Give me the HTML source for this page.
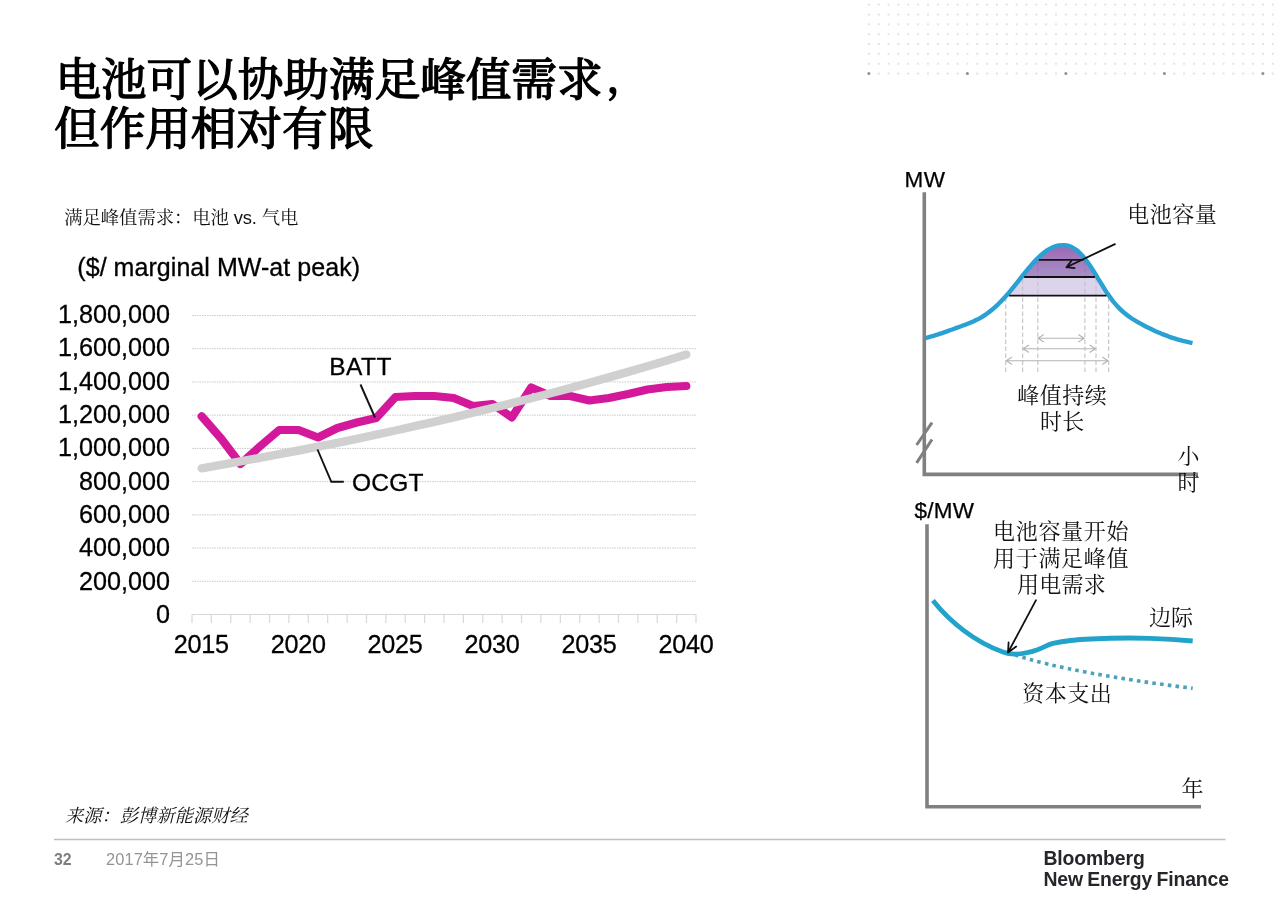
<!DOCTYPE html>
<html lang="zh-CN">
<head>
<meta charset="utf-8">
<title>电池可以协助满足峰值需求，但作用相对有限</title>
<style>
  html, body { margin: 0; padding: 0; background: #ffffff; }
  body { width: 1280px; height: 904px; overflow: hidden; position: relative; }
  svg { position: absolute; left: 0; top: 0; display: block; }
  .t-sans  { font-family: "Liberation Sans", "Noto Sans CJK SC", sans-serif; }
  .t-serif { font-family: "Liberation Serif", "Noto Serif CJK SC", serif; }
  .t-mix   { font-family: "Liberation Sans", "Noto Serif CJK SC", serif; }
</style>
</head>
<body>
<svg width="1280" height="904" viewBox="0 0 1280 904">
  <defs>
    <pattern id="dots" x="864" y="-0.3" width="9.85" height="9.85" patternUnits="userSpaceOnUse">
      <circle cx="4.9" cy="4.9" r="0.9" fill="#d6d6d6"/>
    </pattern>
    <linearGradient id="peakfill" x1="0" y1="0" x2="0" y2="1">
      <stop offset="0" stop-color="#9c66b4"/>
      <stop offset="0.45" stop-color="#a27bbd"/>
      <stop offset="1" stop-color="#a78fc8"/>
    </linearGradient>
  </defs>

  <!-- decorative dot grid -->
  <rect x="864" y="0" width="416" height="78.5" fill="url(#dots)"/>
  <g fill="#8f8f8f">
    <circle cx="868.9" cy="73.6" r="1.5"/><circle cx="967.4" cy="73.6" r="1.5"/>
    <circle cx="1065.9" cy="73.6" r="1.5"/><circle cx="1164.4" cy="73.6" r="1.5"/>
    <circle cx="1262.9" cy="73.6" r="1.5"/>
  </g>

  <!-- title -->
  <g class="t-serif" font-size="45.6" font-weight="400" fill="#000" stroke="#000" stroke-width="1.5" stroke-linejoin="round">
    <text x="55.4" y="96.2">电池可以协助满足峰值需求<tspan dx="4" dy="-4" font-size="40">，</tspan></text>
    <text x="54.1" y="145.4">但作用相对有限</text>
  </g>

  <!-- chart heading -->
  <text class="t-mix" x="64.3" y="223.6" font-size="18.4" letter-spacing="-0.12" fill="#111">满足峰值需求：电池 vs. 气电</text>
  <text class="t-sans" x="77.3" y="276" font-size="25" letter-spacing="0.05" fill="#000" stroke="#000" stroke-width="0.3">($/ marginal MW-at peak)</text>

  <!-- left chart -->
  <g stroke="#c8c8c8" stroke-width="1" stroke-dasharray="1.5 1" fill="none"><line x1="192.0" x2="696.0" y1="315.50" y2="315.50"/><line x1="192.0" x2="696.0" y1="348.72" y2="348.72"/><line x1="192.0" x2="696.0" y1="381.94" y2="381.94"/><line x1="192.0" x2="696.0" y1="415.17" y2="415.17"/><line x1="192.0" x2="696.0" y1="448.39" y2="448.39"/><line x1="192.0" x2="696.0" y1="481.61" y2="481.61"/><line x1="192.0" x2="696.0" y1="514.83" y2="514.83"/><line x1="192.0" x2="696.0" y1="548.06" y2="548.06"/><line x1="192.0" x2="696.0" y1="581.28" y2="581.28"/></g>
  <g stroke="#d8d8d8" stroke-width="1.2" fill="none">
    <line x1="192.0" x2="696.0" y1="614.5" y2="614.5"/><line x1="192.00" x2="192.00" y1="614.5" y2="623"/><line x1="211.38" x2="211.38" y1="614.5" y2="623"/><line x1="230.77" x2="230.77" y1="614.5" y2="623"/><line x1="250.15" x2="250.15" y1="614.5" y2="623"/><line x1="269.54" x2="269.54" y1="614.5" y2="623"/><line x1="288.92" x2="288.92" y1="614.5" y2="623"/><line x1="308.31" x2="308.31" y1="614.5" y2="623"/><line x1="327.69" x2="327.69" y1="614.5" y2="623"/><line x1="347.08" x2="347.08" y1="614.5" y2="623"/><line x1="366.46" x2="366.46" y1="614.5" y2="623"/><line x1="385.85" x2="385.85" y1="614.5" y2="623"/><line x1="405.23" x2="405.23" y1="614.5" y2="623"/><line x1="424.62" x2="424.62" y1="614.5" y2="623"/><line x1="444.00" x2="444.00" y1="614.5" y2="623"/><line x1="463.38" x2="463.38" y1="614.5" y2="623"/><line x1="482.77" x2="482.77" y1="614.5" y2="623"/><line x1="502.15" x2="502.15" y1="614.5" y2="623"/><line x1="521.54" x2="521.54" y1="614.5" y2="623"/><line x1="540.92" x2="540.92" y1="614.5" y2="623"/><line x1="560.31" x2="560.31" y1="614.5" y2="623"/><line x1="579.69" x2="579.69" y1="614.5" y2="623"/><line x1="599.08" x2="599.08" y1="614.5" y2="623"/><line x1="618.46" x2="618.46" y1="614.5" y2="623"/><line x1="637.85" x2="637.85" y1="614.5" y2="623"/><line x1="657.23" x2="657.23" y1="614.5" y2="623"/><line x1="676.62" x2="676.62" y1="614.5" y2="623"/><line x1="696.00" x2="696.00" y1="614.5" y2="623"/>
  </g>
  <polyline points="201.7,416.3 221.1,438.5 240.5,464.0 259.8,446.5 279.2,430.0 298.6,430.0 318.0,437.5 337.4,428.0 356.8,422.5 376.2,418.0 395.5,397.0 414.9,396.0 434.3,396.0 453.7,398.0 473.1,406.0 492.5,404.0 511.8,417.5 531.2,387.5 550.6,396.0 570.0,396.0 589.4,400.5 608.8,398.0 628.2,394.0 647.5,389.5 666.9,387.0 686.3,386.0" fill="none" stroke="#d4189b" stroke-width="8.2" stroke-linejoin="round" stroke-linecap="round"/>
  <polyline points="201.7,468.3 221.1,464.9 240.5,461.4 259.8,457.9 279.2,454.2 298.6,450.5 318.0,446.7 337.4,442.8 356.8,438.8 376.2,434.7 395.5,430.5 414.9,426.2 434.3,421.8 453.7,417.3 473.1,412.7 492.5,408.0 511.8,403.2 531.2,398.3 550.6,393.2 570.0,388.1 589.4,382.8 608.8,377.4 628.2,371.9 647.5,366.2 666.9,360.5 686.3,354.5" fill="none" stroke="#d0d0d0" stroke-width="8.4" stroke-linejoin="round" stroke-linecap="round"/>
  <g stroke="#111" stroke-width="1.9" fill="none">
    <polyline points="360.5,384.5 375,417.5"/>
    <polyline points="317.5,449.5 331.3,481.8 343.8,481.8"/>
  </g>
  <g class="t-sans" font-size="24.5" fill="#000" stroke="#000" stroke-width="0.3">
    <text x="170.1" y="322.9" text-anchor="end" font-size="25.2">1,800,000</text><text x="170.1" y="356.2" text-anchor="end" font-size="25.2">1,600,000</text><text x="170.1" y="389.6" text-anchor="end" font-size="25.2">1,400,000</text><text x="170.1" y="422.9" text-anchor="end" font-size="25.2">1,200,000</text><text x="170.1" y="456.2" text-anchor="end" font-size="25.2">1,000,000</text><text x="170.1" y="489.5" text-anchor="end" font-size="25.2">800,000</text><text x="170.1" y="522.9" text-anchor="end" font-size="25.2">600,000</text><text x="170.1" y="556.2" text-anchor="end" font-size="25.2">400,000</text><text x="170.1" y="589.5" text-anchor="end" font-size="25.2">200,000</text><text x="170.1" y="622.9" text-anchor="end" font-size="25.2">0</text>
    <text x="201.3" y="652.8" text-anchor="middle" font-size="25.2" letter-spacing="-0.25">2015</text><text x="298.2" y="652.8" text-anchor="middle" font-size="25.2" letter-spacing="-0.25">2020</text><text x="395.1" y="652.8" text-anchor="middle" font-size="25.2" letter-spacing="-0.25">2025</text><text x="492.1" y="652.8" text-anchor="middle" font-size="25.2" letter-spacing="-0.25">2030</text><text x="589.0" y="652.8" text-anchor="middle" font-size="25.2" letter-spacing="-0.25">2035</text><text x="685.9" y="652.8" text-anchor="middle" font-size="25.2" letter-spacing="-0.25">2040</text>
    <text x="329.2" y="374.6" letter-spacing="0.5">BATT</text>
    <text x="352" y="491" letter-spacing="0.2">OCGT</text>
  </g>

  <!-- top right chart -->
  <g id="peak">
    <path d="M1006.3,295.6 L1021.6,277.0 L1097.1,277.0 L1108.9,295.6 Z" fill="#dcd4ea"/>
    <path d="M1021.3,277.3 L1021.6,277.0 L1021.8,276.7 L1022.0,276.4 L1022.2,276.1 L1022.4,275.9 L1022.6,275.6 L1022.9,275.3 L1023.1,275.0 L1023.3,274.8 L1023.5,274.5 L1023.8,274.2 L1024.0,273.9 L1024.2,273.6 L1024.5,273.3 L1024.7,273.0 L1024.9,272.7 L1025.2,272.4 L1025.4,272.2 L1025.6,271.9 L1025.9,271.6 L1026.1,271.3 L1026.3,271.0 L1026.6,270.7 L1026.8,270.4 L1027.0,270.2 L1027.3,269.9 L1027.5,269.6 L1027.7,269.3 L1028.0,269.0 L1028.2,268.8 L1028.4,268.5 L1028.6,268.3 L1028.8,268.0 L1029.0,267.8 L1029.3,267.5 L1029.5,267.2 L1029.7,267.0 L1029.9,266.7 L1030.2,266.4 L1030.4,266.2 L1030.6,265.9 L1030.9,265.6 L1031.1,265.4 L1031.3,265.1 L1031.5,264.8 L1031.8,264.6 L1032.0,264.3 L1032.2,264.0 L1032.4,263.8 L1032.7,263.5 L1032.9,263.3 L1033.1,263.0 L1033.4,262.8 L1033.6,262.5 L1033.8,262.3 L1034.0,262.0 L1034.3,261.8 L1034.5,261.5 L1034.7,261.3 L1034.9,261.1 L1035.1,260.9 L1035.4,260.6 L1035.6,260.4 L1035.8,260.1 L1036.1,259.9 L1036.3,259.7 L1036.5,259.4 L1036.8,259.2 L1037.0,259.0 L1037.2,258.7 L1037.5,258.5 L1037.7,258.3 L1037.9,258.0 L1038.2,257.8 L1038.4,257.6 L1038.6,257.4 L1038.9,257.1 L1039.1,256.9 L1039.3,256.7 L1039.5,256.5 L1039.8,256.3 L1040.0,256.1 L1040.2,255.8 L1040.4,255.6 L1040.6,255.5 L1040.8,255.3 L1041.1,255.1 L1041.3,254.9 L1041.6,254.7 L1041.8,254.5 L1042.0,254.3 L1042.3,254.1 L1042.5,253.9 L1042.7,253.7 L1043.0,253.5 L1043.2,253.3 L1043.4,253.1 L1043.6,252.9 L1043.9,252.7 L1044.1,252.6 L1044.3,252.4 L1044.6,252.2 L1044.8,252.0 L1045.0,251.8 L1045.3,251.7 L1045.5,251.5 L1045.7,251.3 L1045.9,251.1 L1046.2,251.0 L1046.4,250.8 L1046.6,250.7 L1046.8,250.5 L1047.0,250.4 L1047.2,250.2 L1047.5,250.1 L1047.7,249.9 L1047.9,249.8 L1048.2,249.6 L1048.4,249.5 L1048.6,249.4 L1048.9,249.2 L1049.1,249.1 L1049.3,249.0 L1049.6,248.8 L1049.8,248.7 L1050.0,248.6 L1050.3,248.4 L1050.5,248.3 L1050.7,248.2 L1051.0,248.1 L1051.2,248.0 L1051.4,247.8 L1051.7,247.7 L1051.9,247.6 L1052.1,247.5 L1052.3,247.4 L1052.6,247.3 L1052.8,247.2 L1053.0,247.1 L1053.2,247.0 L1053.4,246.9 L1053.6,246.8 L1053.9,246.7 L1054.1,246.7 L1054.3,246.6 L1054.5,246.5 L1054.8,246.4 L1055.0,246.3 L1055.2,246.3 L1055.5,246.2 L1055.7,246.1 L1055.9,246.0 L1056.1,246.0 L1056.4,245.9 L1056.6,245.9 L1056.8,245.8 L1057.1,245.7 L1057.3,245.7 L1057.5,245.6 L1057.7,245.6 L1058.0,245.5 L1058.2,245.5 L1058.4,245.5 L1058.6,245.4 L1058.8,245.4 L1059.0,245.4 L1059.3,245.3 L1059.5,245.3 L1059.8,245.3 L1060.0,245.3 L1060.2,245.2 L1060.5,245.2 L1060.7,245.2 L1060.9,245.2 L1061.2,245.2 L1061.4,245.1 L1061.6,245.1 L1061.8,245.1 L1062.1,245.1 L1062.3,245.1 L1062.5,245.1 L1062.8,245.1 L1063.0,245.1 L1063.2,245.1 L1063.5,245.1 L1063.7,245.1 L1063.9,245.1 L1064.1,245.1 L1064.4,245.2 L1064.6,245.2 L1064.8,245.2 L1065.0,245.2 L1065.2,245.2 L1065.5,245.3 L1065.7,245.3 L1065.9,245.3 L1066.2,245.4 L1066.4,245.4 L1066.6,245.4 L1066.9,245.5 L1067.1,245.5 L1067.3,245.6 L1067.6,245.6 L1067.8,245.7 L1068.0,245.7 L1068.3,245.8 L1068.5,245.9 L1068.7,245.9 L1068.9,246.0 L1069.2,246.1 L1069.4,246.1 L1069.6,246.2 L1069.9,246.3 L1070.1,246.4 L1070.3,246.4 L1070.5,246.5 L1070.8,246.6 L1071.0,246.7 L1071.2,246.8 L1071.4,246.9 L1071.6,247.0 L1071.8,247.1 L1072.1,247.2 L1072.3,247.3 L1072.5,247.5 L1072.7,247.6 L1073.0,247.7 L1073.2,247.8 L1073.4,248.0 L1073.7,248.1 L1073.9,248.3 L1074.1,248.4 L1074.4,248.6 L1074.6,248.7 L1074.8,248.9 L1075.1,249.0 L1075.3,249.2 L1075.5,249.3 L1075.8,249.5 L1076.0,249.7 L1076.2,249.8 L1076.5,250.0 L1076.7,250.2 L1076.9,250.4 L1077.1,250.5 L1077.3,250.7 L1077.6,250.9 L1077.8,251.1 L1078.0,251.3 L1078.2,251.5 L1078.5,251.7 L1078.7,251.9 L1078.9,252.2 L1079.2,252.4 L1079.4,252.6 L1079.6,252.8 L1079.8,253.1 L1080.1,253.3 L1080.3,253.5 L1080.5,253.8 L1080.8,254.0 L1081.0,254.2 L1081.2,254.5 L1081.5,254.7 L1081.7,255.0 L1081.9,255.2 L1082.2,255.5 L1082.4,255.7 L1082.6,256.0 L1082.9,256.3 L1083.1,256.5 L1083.3,256.7 L1083.5,257.0 L1083.7,257.2 L1084.0,257.5 L1084.2,257.8 L1084.4,258.1 L1084.6,258.4 L1084.9,258.7 L1085.1,259.0 L1085.3,259.3 L1085.6,259.6 L1085.8,259.9 L1086.0,260.2 L1086.2,260.5 L1086.5,260.8 L1086.7,261.1 L1086.9,261.4 L1087.1,261.7 L1087.4,262.0 L1087.6,262.3 L1087.8,262.7 L1088.1,263.0 L1088.3,263.3 L1088.5,263.6 L1088.7,263.9 L1089.0,264.3 L1089.2,264.6 L1089.4,264.8 L1089.6,265.2 L1089.8,265.5 L1090.0,265.8 L1090.3,266.2 L1090.5,266.5 L1090.7,266.9 L1091.0,267.2 L1091.2,267.6 L1091.4,267.9 L1091.7,268.3 L1091.9,268.6 L1092.1,269.0 L1092.4,269.3 L1092.6,269.7 L1092.8,270.1 L1093.1,270.4 L1093.3,270.8 L1093.5,271.1 L1093.8,271.5 L1094.0,271.9 L1094.2,272.3 L1094.5,272.6 L1094.7,273.0 L1094.9,273.4 L1095.1,273.7 L1095.3,274.0 L1095.5,274.4 L1095.8,274.7 L1096.0,275.1 L1096.2,275.5 L1096.4,275.9 L1096.7,276.2 L1096.9,276.6 L1097.1,277.0 Z" fill="url(#peakfill)"/>
    <g stroke="#4a3a4a" stroke-opacity="0.13" stroke-width="1.2" stroke-dasharray="4.5 2.5" fill="none">
      <line x1="1022.6" x2="1022.6" y1="279" y2="296"/><line x1="1037.8" x2="1037.8" y1="261" y2="296"/>
      <line x1="1084.9" x2="1084.9" y1="261" y2="296"/><line x1="1096" x2="1096" y1="279" y2="296"/>
    </g>
    <g stroke="#3a2a3a" stroke-opacity="0.27" stroke-width="1.2" stroke-dasharray="4.5 2.5" fill="none">
      <line x1="1005.7" x2="1005.7" y1="297.5" y2="373.5"/><line x1="1022.6" x2="1022.6" y1="297.5" y2="373.5"/>
      <line x1="1037.8" x2="1037.8" y1="297.5" y2="373.5"/><line x1="1084.9" x2="1084.9" y1="297.5" y2="373.5"/>
      <line x1="1096" x2="1096" y1="297.5" y2="373.5"/><line x1="1108.6" x2="1108.6" y1="297.5" y2="373.5"/>
    </g>
    <g stroke="#b4b4b4" stroke-width="1.1" fill="none" stroke-linecap="round" stroke-linejoin="round">
      <path d="M1038,338.3 H1084.2 M1043.5,334.8 L1038,338.3 L1043.5,341.8 M1078.7,334.8 L1084.2,338.3 L1078.7,341.8"/>
      <path d="M1023.1,348.7 H1095.5 M1028.6,345.2 L1023.1,348.7 L1028.6,352.2 M1090,345.2 L1095.5,348.7 L1090,352.2"/>
      <path d="M1006.2,360.8 H1108.1 M1011.7,357.3 L1006.2,360.8 L1011.7,364.3 M1102.6,357.3 L1108.1,360.8 L1102.6,364.3"/>
    </g>
    <path d="M925.2,338.1 C926.2,337.8 929.3,337.0 931.3,336.4 C933.3,335.9 935.3,335.2 937.4,334.6 C939.4,333.9 941.4,333.3 943.4,332.6 C945.5,331.9 947.5,331.1 949.5,330.4 C951.5,329.7 953.6,329.0 955.6,328.2 C957.6,327.5 959.6,326.8 961.7,326.0 C963.7,325.3 965.7,324.6 967.7,323.8 C969.8,323.0 971.8,322.1 973.8,321.2 C975.8,320.2 977.9,319.3 979.9,318.1 C981.9,317.0 983.9,315.7 986.0,314.3 C988.0,312.9 990.0,311.4 992.0,309.7 C994.1,308.0 996.1,306.2 998.1,304.3 C1000.1,302.3 1002.2,300.2 1004.2,298.0 C1006.2,295.8 1008.2,293.5 1010.2,291.1 C1012.3,288.7 1014.3,286.1 1016.3,283.6 C1018.4,281.1 1020.4,278.5 1022.4,275.9 C1024.4,273.4 1026.5,270.8 1028.5,268.4 C1030.5,266.0 1032.5,263.7 1034.5,261.5 C1036.6,259.4 1038.6,257.3 1040.6,255.5 C1042.7,253.7 1044.7,252.0 1046.7,250.6 C1048.7,249.2 1050.8,248.1 1052.8,247.2 C1054.8,246.3 1056.8,245.7 1058.8,245.4 C1060.9,245.1 1062.9,245.0 1064.9,245.2 C1067.0,245.4 1069.0,245.9 1071.0,246.7 C1073.0,247.6 1075.0,248.9 1077.1,250.5 C1079.1,252.2 1081.1,254.3 1083.2,256.6 C1085.2,259.0 1087.2,261.7 1089.2,264.6 C1091.2,267.5 1093.3,270.7 1095.3,274.0 C1097.3,277.2 1099.3,280.7 1101.4,283.9 C1103.4,287.2 1105.4,290.6 1107.5,293.6 C1109.5,296.5 1111.5,299.4 1113.5,301.9 C1115.6,304.4 1117.6,306.6 1119.6,308.6 C1121.6,310.6 1123.6,312.4 1125.7,314.0 C1127.7,315.7 1129.7,317.1 1131.8,318.5 C1133.8,319.8 1135.8,321.0 1137.8,322.2 C1139.9,323.4 1141.9,324.5 1143.9,325.5 C1145.9,326.6 1147.9,327.6 1150.0,328.6 C1152.0,329.6 1154.0,330.5 1156.0,331.4 C1158.1,332.3 1160.1,333.2 1162.1,334.0 C1164.2,334.8 1166.2,335.5 1168.2,336.3 C1170.2,337.0 1172.2,337.7 1174.3,338.3 C1176.3,339.0 1178.3,339.6 1180.3,340.1 C1182.4,340.7 1184.4,341.2 1186.4,341.7 C1188.5,342.2 1191.5,342.9 1192.5,343.1"
          fill="none" stroke="#2aa1d3" stroke-width="4.4" stroke-linecap="butt" stroke-linejoin="round"/>
    <g stroke="#111" stroke-width="1.8" fill="none">
      <line x1="1038.8" x2="1083.5" y1="259.8" y2="259.8"/>
      <line x1="1024.2" x2="1094.9" y1="277.0" y2="277.0"/>
      <line x1="1009.1" x2="1106.5" y1="295.6" y2="295.6"/>
      <path d="M1114.9,244.1 L1066.4,267.2 M1071.4,260.9 L1066.4,267.2 L1074.6,268.1" stroke-linecap="round" stroke-linejoin="round"/>
    </g>
    <g stroke="#808080" stroke-width="3.6" fill="none">
      <path d="M924.3,192.3 V474.4 H1198"/>
      <path d="M916.6,445 L932,422.6 M916.6,462.9 L932,439.5" stroke-width="3"/>
    </g>
    <text class="t-sans" x="904.5" y="187" font-size="22.5" letter-spacing="0.6" fill="#000" stroke="#000" stroke-width="0.25">MW</text>
    <g class="t-serif" font-size="22" fill="#111">
      <text x="1127.3" y="222" letter-spacing="0.5">电池容量</text>
      <text x="1062.2" y="403.3" text-anchor="middle" letter-spacing="0.5">峰值持续</text>
      <text x="1062.2" y="429.3" text-anchor="middle" letter-spacing="0.3">时长</text>
      <text x="1177.5" y="464">小</text>
      <text x="1177.5" y="490">时</text>
    </g>
  </g>

  <!-- bottom right chart -->
  <g id="capex">
    <path d="M1015,654.8 C1050,667 1120,679.5 1192.7,688.3" fill="none" stroke="#4aa3ba" stroke-width="3.6" stroke-dasharray="3.6 4.2"/>
    <path d="M932.9,600.5 C950,622 975,642 1003,652 C1012,655.5 1022,655 1037.5,649.7 C1045,647 1048,644.5 1053,643.3 C1066,640.5 1080,639.4 1091,639 C1110,638 1133,637.8 1150,638.3 C1165,638.8 1180,639.8 1192.7,641"
          fill="none" stroke="#22a3c9" stroke-width="4.8" stroke-linecap="butt" stroke-linejoin="round"/>
    <g stroke="#111" stroke-width="1.8" fill="none" stroke-linecap="round" stroke-linejoin="round">
      <path d="M1036,600.2 L1008,652.5 M1008.6,642.5 L1008,652.5 L1016.2,646.6"/>
    </g>
    <g stroke="#808080" stroke-width="3.6" fill="none">
      <path d="M927,524.3 V806.8 H1201"/>
    </g>
    <text class="t-sans" x="914.5" y="517.6" font-size="22.5" letter-spacing="0.25" fill="#000" stroke="#000" stroke-width="0.25">$/MW</text>
    <g class="t-serif" font-size="22" fill="#111">
      <text x="1061.1" y="538.6" text-anchor="middle" letter-spacing="0.7">电池容量开始</text>
      <text x="1061.1" y="565.8" text-anchor="middle" letter-spacing="0.7">用于满足峰值</text>
      <text x="1061.5" y="592.3" text-anchor="middle" letter-spacing="0.3">用电需求</text>
      <text x="1149" y="625.2">边际</text>
      <text x="1022.3" y="700.6" letter-spacing="0.5">资本支出</text>
      <text x="1181.5" y="795.9">年</text>
    </g>
  </g>

  <!-- footer -->
  <text class="t-serif" x="65" y="822" font-size="18.3" font-style="italic" fill="#111">来源：彭博新能源财经</text>
  <line x1="54" x2="1225.5" y1="839.5" y2="839.5" stroke="#bebcc6" stroke-width="1.6"/>
  <text class="t-sans" x="54" y="865" font-size="15.9" font-weight="700" fill="#7d7d7d">32</text>
  <text class="t-sans" x="106" y="865" font-size="16.4" letter-spacing="0.1" fill="#949494">2017年7月25日</text>
  <g class="t-sans" font-size="19.4" font-weight="700" letter-spacing="-0.12" word-spacing="-1" fill="#25252b">
    <text x="1043.4" y="864.6">Bloomberg</text>
    <text x="1043.4" y="886.4">New Energy Finance</text>
  </g>
</svg>
</body>
</html>
